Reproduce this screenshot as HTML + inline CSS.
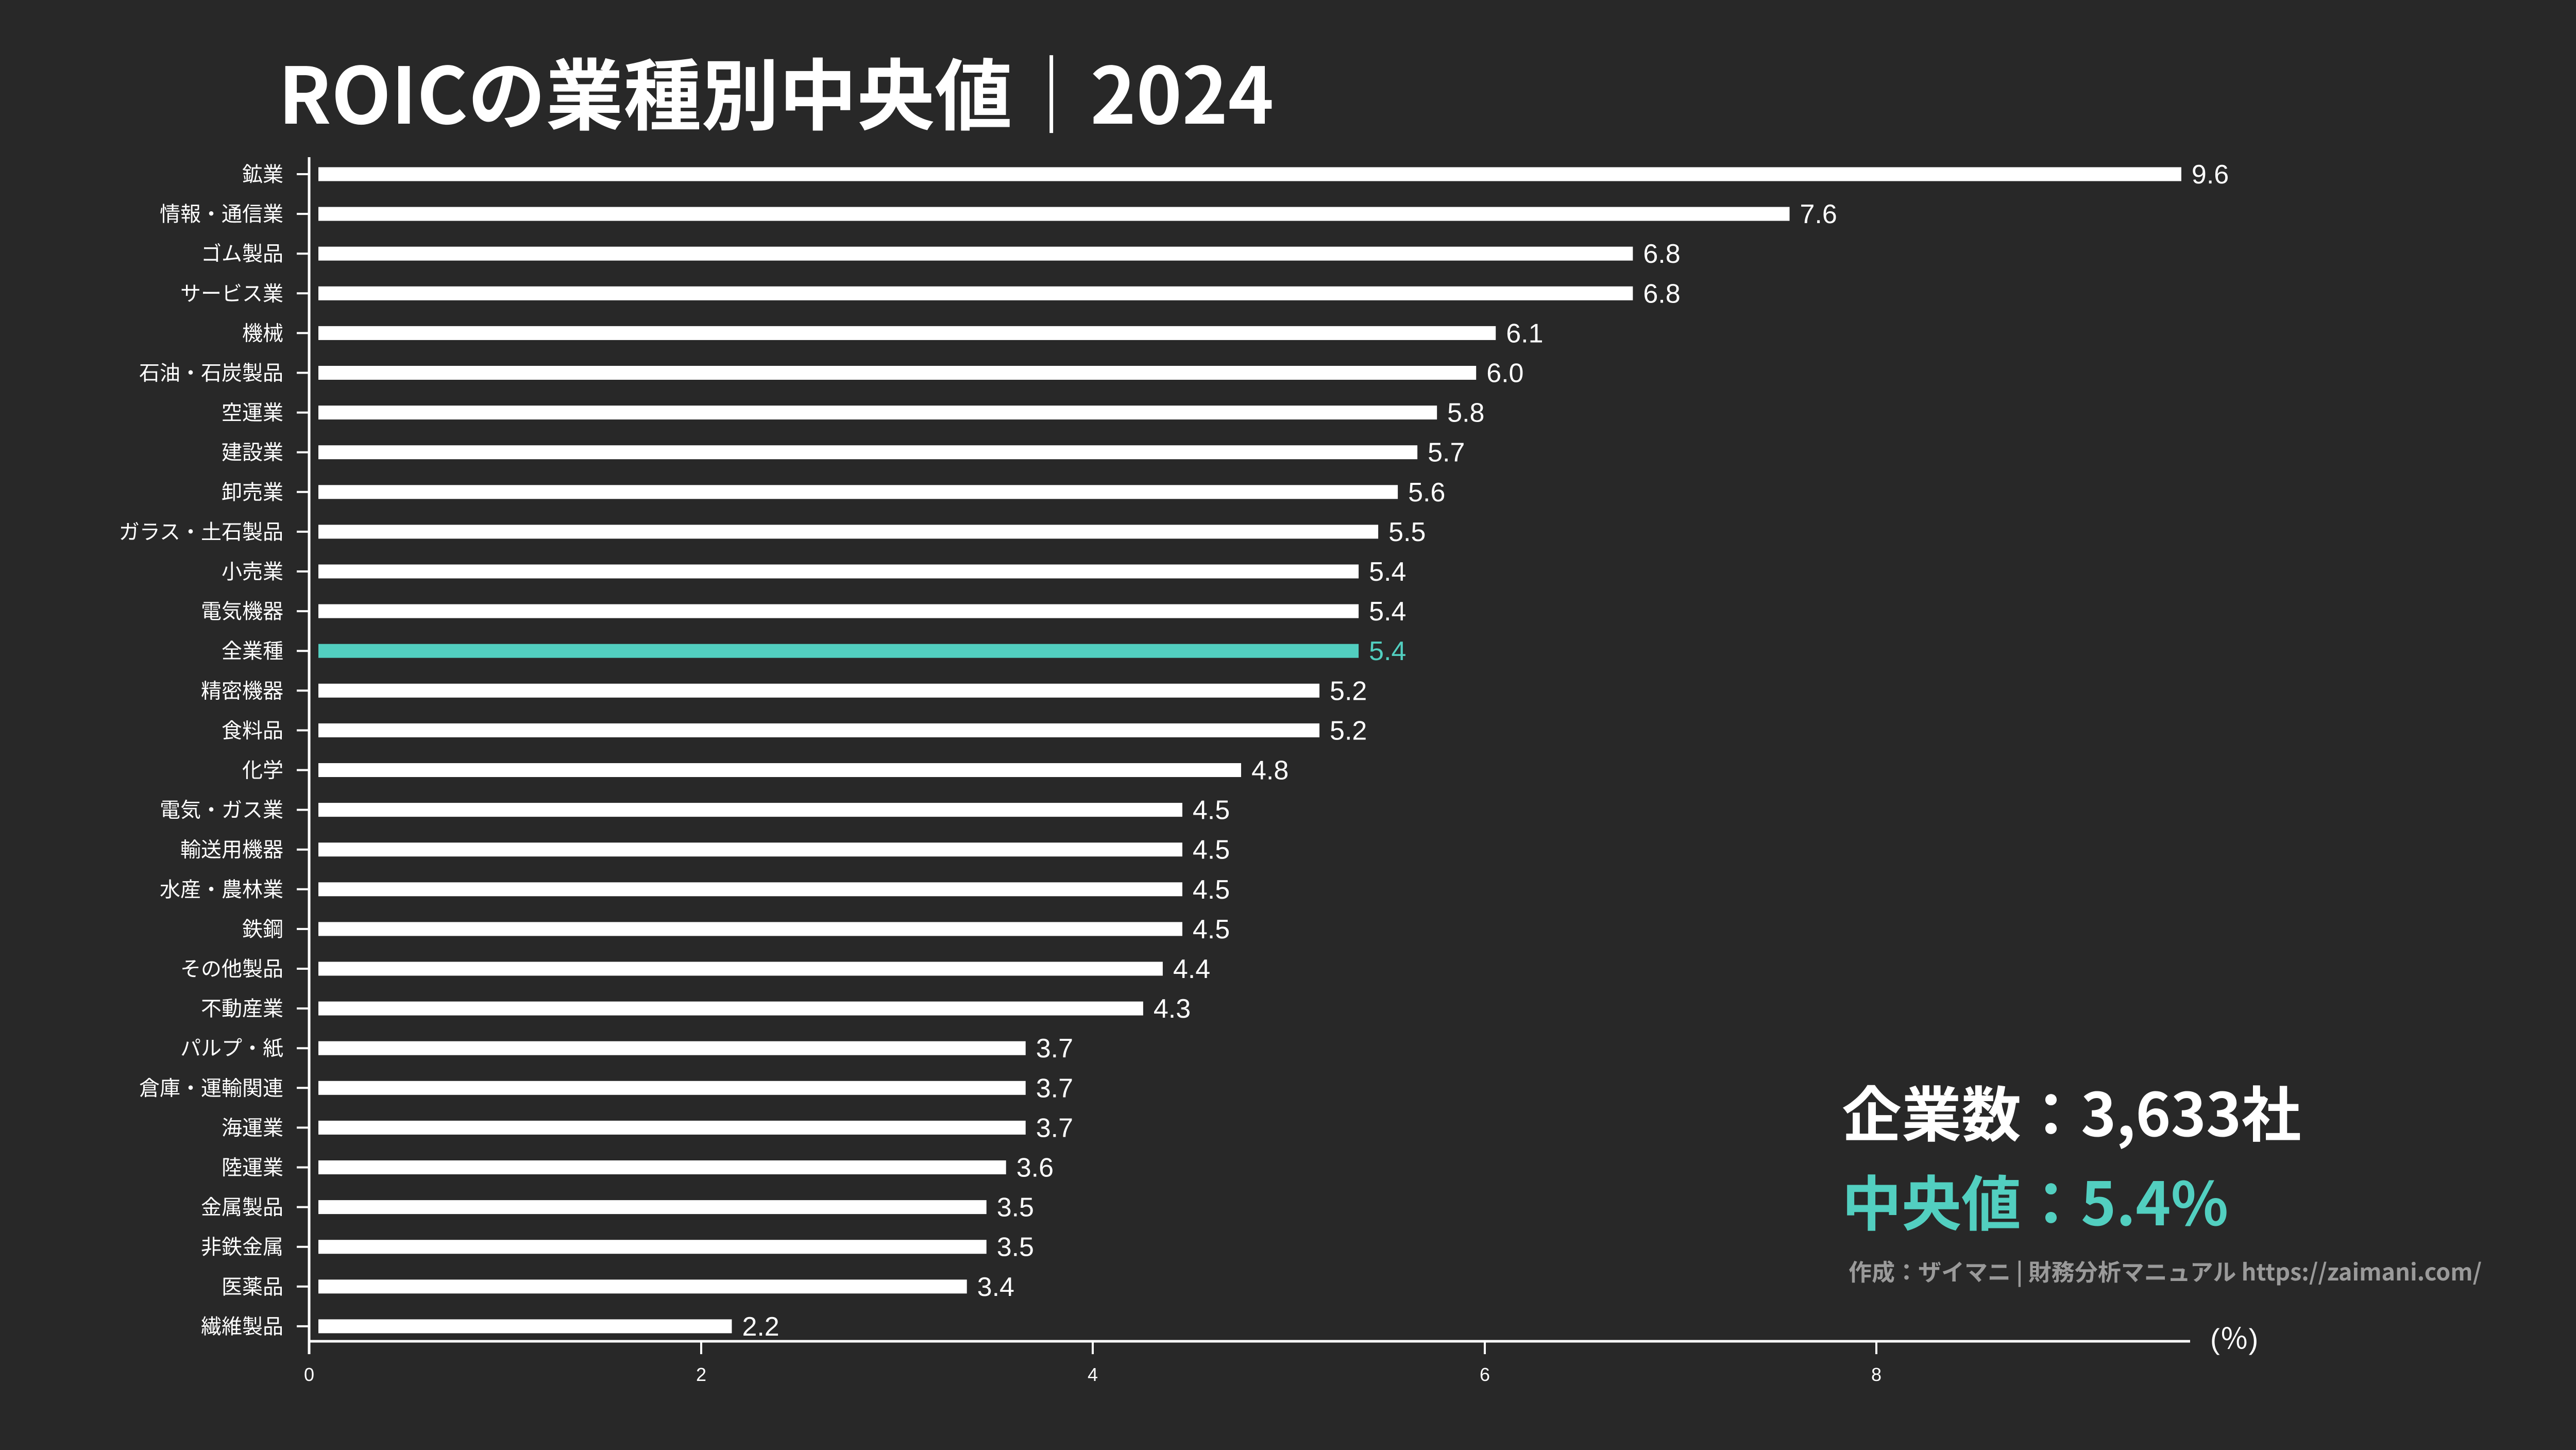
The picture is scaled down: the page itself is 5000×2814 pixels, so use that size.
<!DOCTYPE html>
<html><head><meta charset="utf-8"><style>
html,body{margin:0;padding:0;background:#282828;}
svg{display:block;}
text{font-family:"Liberation Sans","Noto Sans CJK JP",sans-serif;}
</style></head><body>
<svg width="5000" height="2814" viewBox="0 0 5000 2814" xmlns="http://www.w3.org/2000/svg">
<rect width="5000" height="2814" fill="#282828"/>
<text x="540" y="240" font-size="151" font-weight="bold" fill="#fff" style="font-family:'Noto Sans CJK JP',sans-serif">ROICの業種別中央値｜2024</text>
<line x1="600" y1="305" x2="600" y2="2628" stroke="#fff" stroke-width="5"/>
<line x1="598" y1="2603" x2="4251" y2="2603" stroke="#fff" stroke-width="5"/>
<g stroke="#fff" stroke-width="4">
<line x1="600" y1="2603" x2="600" y2="2628"/><line x1="1361" y1="2603" x2="1361" y2="2628"/><line x1="2121" y1="2603" x2="2121" y2="2628"/><line x1="2882" y1="2603" x2="2882" y2="2628"/><line x1="3642" y1="2603" x2="3642" y2="2628"/>
</g>
<g fill="#fff" font-size="36" text-anchor="middle">
<text x="600" y="2680">0</text><text x="1361" y="2680">2</text><text x="2121" y="2680">4</text><text x="2882" y="2680">6</text><text x="3642" y="2680">8</text>
</g>
<text x="4290" y="2618" font-size="56" fill="#fff">(％)</text>
<text x="3575" y="2205" font-size="116" font-weight="bold" fill="#fff" style="font-family:'Noto Sans CJK JP',sans-serif">企業数：3,633社</text>
<text x="3575" y="2378" font-size="116" font-weight="bold" fill="#52cfc0" style="font-family:'Noto Sans CJK JP',sans-serif">中央値：5.4%</text>
<text x="3588" y="2485" font-size="45" font-weight="bold" fill="#9a9a9a" style="font-family:'Noto Sans CJK JP',sans-serif">作成：ザイマニ | 財務分析マニュアル https://zaimani.com/</text>
<g id="rows"></g>
<script>
var d=[["鉱業",9.6],["情報・通信業",7.6],["ゴム製品",6.8],["サービス業",6.8],["機械",6.1],["石油・石炭製品",6.0],["空運業",5.8],["建設業",5.7],["卸売業",5.6],["ガラス・土石製品",5.5],["小売業",5.4],["電気機器",5.4],["全業種",5.4],["精密機器",5.2],["食料品",5.2],["化学",4.8],["電気・ガス業",4.5],["輸送用機器",4.5],["水産・農林業",4.5],["鉄鋼",4.5],["その他製品",4.4],["不動産業",4.3],["パルプ・紙",3.7],["倉庫・運輸関連",3.7],["海運業",3.7],["陸運業",3.6],["金属製品",3.5],["非鉄金属",3.5],["医薬品",3.4],["繊維製品",2.2]];
var ns="http://www.w3.org/2000/svg",g=document.getElementById("rows");
function el(t,a,s){var e=document.createElementNS(ns,t);for(var k in a)e.setAttribute(k,a[k]);if(s)e.textContent=s;g.appendChild(e);}
d.forEach(function(r,i){var y=338+i*77.1,end=584+r[1]*380.2,c=r[0]=="全業種"?"#52cfc0":"#fff";
el("rect",{x:618,y:y-13.5,width:end-618,height:27,fill:c});
el("line",{x1:576,y1:y,x2:600,y2:y,stroke:"#fff","stroke-width":4});
el("text",{x:550,y:y+14,"font-size":40,fill:"#fff","text-anchor":"end"},r[0]);
el("text",{x:end+20,y:y+18,"font-size":52,fill:c},r[1].toFixed(1));});
</script>
</svg>
</body></html>
